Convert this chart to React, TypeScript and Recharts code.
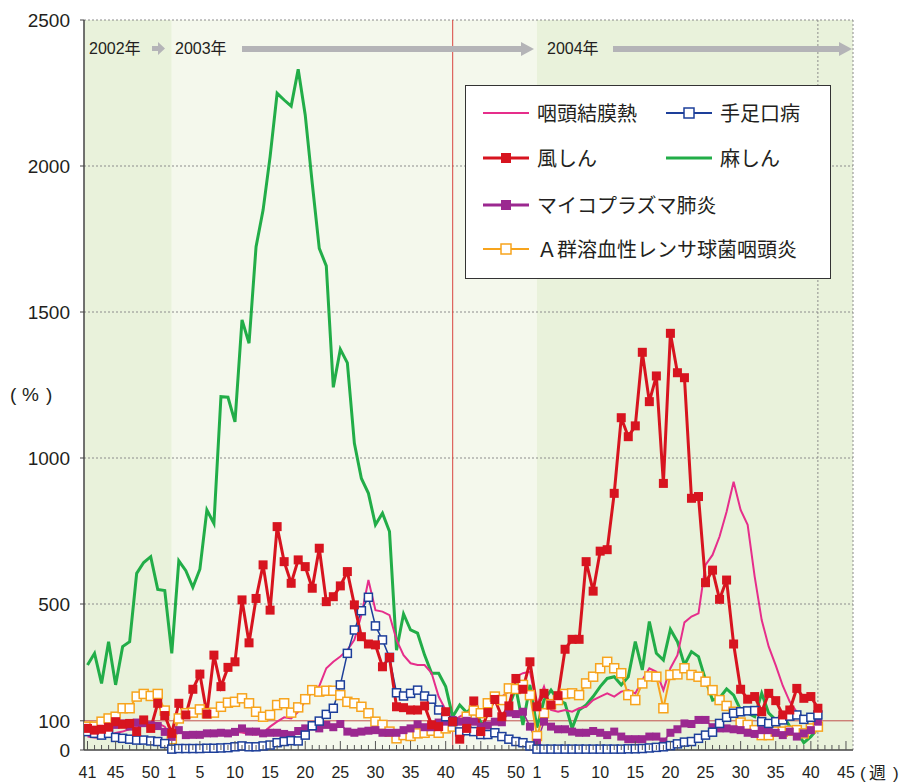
import React from "react";
import { LineChart, Line, XAxis, YAxis, ReferenceLine, ReferenceArea, Legend } from "recharts";

// weeks: 2002 w41-52, 2003 w1-52, 2004 w1-41
const yearSpans = [
  { year: 2002, from: 41, to: 52 },
  { year: 2003, from: 1, to: 52 },
  { year: 2004, from: 1, to: 41 },
];

// 咽頭結膜熱
const pcf = [
  46, 43, 42, 50, 58, 63, 72, 80, 86, 95, 92, 80,
  34, 65, 55, 52, 55, 55, 58, 58, 60, 62, 60, 55, 52, 59,
  80, 97, 112, 108, 131, 168, 200, 219, 280, 302, 320, 342, 377, 462, 582, 479, 474, 462, 377, 325, 297, 291, 291, 263, 183, 137, 97,
  114, 126, 137, 114, 143, 169, 183, 200, 251, 263, 268, 154, 217, 137, 131, 137, 131, 143, 148, 171, 183, 194, 183, 200, 205, 194, 240, 280,
  268, 205, 280, 325, 437, 457, 468, 634, 668, 731, 816, 919, 822, 771, 594, 445, 354, 290, 220, 165, 130, 110, 103, 115,
];
// 手足口病
const hfmd = [
  63, 57, 51, 57, 43, 40, 37, 34, 34, 31, 29, 22,
  3, 5, 5, 5, 5, 6, 6, 7, 8, 11, 14, 11, 11, 14,
  17, 25, 29, 32, 31, 51, 83, 99, 122, 143, 223, 331, 411, 477, 523, 425, 377, 317, 196, 185, 194, 205, 185, 174, 137, 114, 97, 62,
  66, 63, 53, 53, 59, 46, 37, 29, 25, 14, 3,
  3, 3, 3, 3, 3, 3, 3, 3, 3, 3, 3, 3, 4, 4, 5,
  7, 9, 11, 15, 21, 27, 29, 40, 51, 61, 91, 112, 126, 131, 134, 135, 97, 91, 97, 103, 116, 120, 105, 112, 120,
];
// 風しん
const rubella = [
  74, 68, 71, 78, 97, 88, 91, 63, 103, 74, 160, 118,
  57, 160, 120, 208, 260, 123, 325, 217, 283, 302, 514, 367, 519, 634, 479,
  765, 645, 571, 651, 628, 554, 691, 508, 525, 562, 611, 497, 388, 363, 360, 285, 317, 148, 145, 137, 137, 151, 86, 80, 131, 97, 37,
  74, 168, 63, 128, 173, 114, 151, 245, 208, 302, 148, 194, 154, 186, 345, 379, 379, 645, 544, 681, 686,
  879, 1138, 1073, 1110, 1362, 1193, 1281, 913, 1427, 1292, 1275, 862, 868, 573, 616, 516, 582, 363, 208, 174, 183, 131, 194, 169, 120, 137, 211, 177, 183, 143,
];
// 麻しん
const measles = [
  291, 331, 228, 371, 223, 354, 371, 605, 642, 662, 550, 546,
  331, 648, 614, 557, 619, 822, 776, 1210, 1208, 1124, 1473, 1393, 1724, 1849, 2032,
  2249, 2226, 2205, 2331, 2175, 1941, 1718, 1658, 1242, 1372, 1326, 1050, 930, 879, 771, 811, 748,
  342, 466, 411, 400, 325, 263, 263, 217, 114,
  154, 128, 152, 94, 86, 91, 100, 148, 212, 86, 223, 77, 171, 205, 171, 160, 74,
  137, 154, 183, 217, 245, 251, 223, 251, 371, 274, 440,
  331, 308, 413, 371, 291, 337, 320, 240, 171, 178, 209, 188, 137, 126, 114, 194, 126, 103, 120, 80, 63, 25, 46, 74,
];
// マイコプラズマ肺炎
const mycoplasma = [
  65, 68, 72, 78, 86, 91, 80, 94, 92, 85, 82, 62,
  45, 68, 51, 52, 52, 57, 57, 59, 57, 62, 74, 63, 63, 57,
  59, 59, 55, 51, 65, 74, 80, 74, 86, 78, 89, 63, 59, 63, 66, 68, 59, 59, 59, 68, 74, 88, 78, 78, 94, 97, 103,
  97, 100, 97, 80, 84, 97, 95, 128, 123, 131, 80, 25, 97, 80, 71, 71, 63, 59, 59, 65, 59, 51, 63, 46, 37, 37, 37,
  46, 46, 29, 59, 71, 91, 89, 103, 103, 78, 74, 74, 71, 68, 59, 55, 68, 68, 59, 51, 63, 46, 57, 68, 97,
];
// A群溶血性レンサ球菌咽頭炎
const gas = [
  80, 80, 97, 108, 114, 143, 143, 183, 192, 185, 192, 135,
  37, 108, 126, 128, 139, 126, 128, 148, 162, 165, 177, 160, 131, 114,
  120, 154, 160, 128, 146, 174, 205, 200, 203, 203, 188, 165, 160, 148, 126, 97, 86, 63, 40, 51, 48, 57, 59, 66, 59, 74, 80,
  86, 114, 135, 126, 160, 183, 171, 211, 209, 223, 188, 48, 126, 157, 171, 192, 194, 188, 228, 251, 280, 302, 280, 263, 188, 171, 228, 252,
  251, 143, 257, 259, 280, 257, 251, 234, 205, 171, 151, 131, 94, 86, 68, 51, 51, 63, 63, 66, 68, 57, 74, 80,
];

const yTicks = [0, 100, 500, 1000, 1500, 2000, 2500];
const gridValues = [500, 1000, 1500, 2000, 2500];
const labelWeeks2002 = [41, 45, 50];
const labelWeeks2003 = [1, 5, 10, 15, 20, 25, 30, 35, 40, 45, 50];
const labelWeeks2004 = [1, 5, 10, 15, 20, 25, 30, 35, 40, 45];

// index offsets of each year's week 1
const start2003 = 12;
const start2004 = 64;

const rows = [];
let idx = 0;
yearSpans.forEach((s) => {
  for (let w = s.from; w <= s.to; w++) {
    rows.push({
      i: idx, year: s.year, week: w,
      pcf: pcf[idx], hfmd: hfmd[idx], rubella: rubella[idx],
      measles: measles[idx], mycoplasma: mycoplasma[idx], gas: gas[idx],
    });
    idx++;
  }
});

const tickLabels: Record<number, string> = {};
labelWeeks2002.forEach((w) => (tickLabels[w - 41] = String(w)));
labelWeeks2003.forEach((w) => (tickLabels[start2003 + w - 1] = String(w)));
labelWeeks2004.forEach((w) => (tickLabels[start2004 + w - 1] = String(w)));
const xTicks = Array.from({ length: 109 }, (_, k) => k);

const FONT = "'Liberation Sans', Arial, 'Noto Sans CJK JP', sans-serif";
const JP = "'Noto Sans CJK JP', sans-serif";
const TXT = "#231f20";

const WeekTick = (props: any) => {
  const { x, y, payload } = props;
  const label = tickLabels[payload.value];
  return (
    <g>
      <line x1={x} x2={x} y1={y} y2={y - (label ? 9 : 5)} stroke="#555" strokeWidth={1} />
      {label && (
        <text x={x} y={y + 28} textAnchor="middle" fontSize={16} fill={TXT} fontFamily={FONT}>
          {label}
        </text>
      )}
    </g>
  );
};

const filledSquare = (color: string, size: number) => (p: any) => {
  if (p.cx == null || p.cy == null) return <g key={`e-${p.index}`} />;
  return <rect key={`d-${p.index}`} x={p.cx - size / 2} y={p.cy - size / 2} width={size} height={size} fill={color} />;
};
const openSquare = (color: string, size: number) => (p: any) => {
  if (p.cx == null || p.cy == null) return <g key={`e-${p.index}`} />;
  return (
    <rect key={`d-${p.index}`} x={p.cx - size / 2} y={p.cy - size / 2} width={size} height={size}
      fill="#fff" stroke={color} strokeWidth={1.5} />
  );
};

const C = {
  pcf: "#e62e8b",
  hfmd: "#1d3f9a",
  rubella: "#d7141f",
  measles: "#22ad48",
  mycoplasma: "#9b2890",
  gas: "#f7a41d",
};

const LegendIcon = ({ color, kind, width = 46 }: { color: string; kind: string; width?: number }) => (
  <svg width={width} height={14} style={{ display: "block" }}>
    <line x1={0} x2={width} y1={7} y2={7} stroke={color} strokeWidth={kind === "thick" || kind === "filled" ? 3 : 2} />
    {kind === "filled" && <rect x={width / 2 - 5} y={2} width={10} height={10} fill={color} />}
    {kind === "open" && <rect x={width / 2 - 5} y={2} width={10} height={10} fill="#fff" stroke={color} strokeWidth={1.5} />}
  </svg>
);

const legendItems = [
  { name: "咽頭結膜熱", color: C.pcf, kind: "line", left: 17, top: 27 },
  { name: "手足口病", color: C.hfmd, kind: "open", left: 200, top: 27 },
  { name: "風しん", color: C.rubella, kind: "filled", left: 17, top: 72 },
  { name: "麻しん", color: C.measles, kind: "thick", left: 200, top: 72 },
  { name: "マイコプラズマ肺炎", color: C.mycoplasma, kind: "filled", left: 17, top: 119 },
  { name: "Ａ群溶血性レンサ球菌咽頭炎", color: C.gas, kind: "open", left: 17, top: 163 },
];

const LegendBox = () => (
  <div style={{ position: "relative", width: 366, height: 194, boxSizing: "border-box", border: "1px solid #333", background: "#fff" }}>
    {legendItems.map((it) => (
      <div key={it.name} style={{ position: "absolute", left: it.left, top: it.top - 14, height: 28, display: "flex", alignItems: "center" }}>
        <LegendIcon color={it.color} kind={it.kind} />
        <span style={{ marginLeft: 8, fontSize: 20, fontFamily: JP, color: TXT, whiteSpace: "nowrap", lineHeight: "28px" }}>
          {it.name}
        </span>
      </div>
    ))}
  </div>
);

const Annotations = () => (
  <svg width={906} height={782} style={{ position: "absolute", left: 0, top: 0, pointerEvents: "none", overflow: "visible" }}>
    <g fontFamily={FONT} fill={TXT} fontSize={16}>
      <text x={89} y={54}>2002年</text>
      <text x={175} y={54}>2003年</text>
      <text x={547} y={54}>2004年</text>
    </g>
    <g fill="#b4b4b7">
      <polygon points="152,46 158,46 158,42 165,48.5 158,55 158,51 152,51" />
      <rect x={242} y={46} width={281} height={6} />
      <polygon points="521,42 534,49 521,56" />
      <rect x={613} y={46} width={228} height={6} />
      <polygon points="839,42 852,49 839,56" />
    </g>
    <g fontSize={19} fontFamily={FONT} fill={TXT}>
      <text x={10} y={401}>(</text>
      <text x={22} y={401}>%</text>
      <text x={46} y={401}>)</text>
    </g>
    <g fontSize={17} fontFamily={FONT} fill={TXT}>
      <text x={860} y={779}>(</text>
      <text x={869} y={779}>週</text>
      <text x={893} y={779}>)</text>
    </g>
  </svg>
);

const App = () => (
  <div style={{ position: "absolute", left: 0, top: 0, width: 906, height: 782, background: "#fff" }}>
    <LineChart width={906} height={782} data={rows} margin={{ top: 20, right: 53, bottom: 2, left: 14 }}>
      <ReferenceArea x1={-0.5} x2={start2003} y1={0} y2={2500} fill="#e9f2db" fillOpacity={1} stroke="none" />
      <ReferenceArea x1={start2003} x2={start2004} y1={0} y2={2500} fill="#f4f8ec" fillOpacity={1} stroke="none" />
      <ReferenceArea x1={start2004} x2={109} y1={0} y2={2500} fill="#e9f2db" fillOpacity={1} stroke="none" />
      {gridValues.map((v) => (
        <ReferenceLine key={v} y={v} stroke="#8c8c8c" strokeDasharray="2 2" strokeWidth={1} />
      ))}
      <ReferenceLine x={104} stroke="#8c8c8c" strokeDasharray="2 2" />
      <ReferenceLine x={109} stroke="#8c8c8c" strokeDasharray="2 2" />
      <ReferenceLine y={100} stroke="#c0504d" strokeWidth={1} />
      <ReferenceLine x={52} stroke="#d9443f" strokeWidth={1} />
      <XAxis dataKey="i" type="number" domain={[-0.5, 109]} ticks={xTicks} interval={0} allowDataOverflow
        tick={(p: any) => <WeekTick {...p} />} tickLine={false} tickSize={0} tickMargin={0} height={30}
        axisLine={{ stroke: "#444", strokeWidth: 1.5 }} />
      <YAxis type="number" domain={[0, 2500]} ticks={yTicks} interval={0} width={70} tickSize={4} tickMargin={10}
        tick={{ fontSize: 19, fill: TXT, fontFamily: FONT }} axisLine={{ stroke: "#444", strokeWidth: 1.5 }}
        tickLine={{ stroke: "#444" }} />
      <Legend layout="horizontal" verticalAlign="middle" align="center"
        wrapperStyle={{ position: "absolute", left: 465, top: 85, width: 366, height: 194 }}
        content={() => <LegendBox />} />
      <Line dataKey="measles" name="麻しん" stroke={C.measles} strokeWidth={3} dot={false} isAnimationActive={false} />
      <Line dataKey="pcf" name="咽頭結膜熱" stroke={C.pcf} strokeWidth={2} dot={false} isAnimationActive={false} />
      <Line dataKey="gas" name="A群溶血性レンサ球菌咽頭炎" stroke={C.gas} strokeWidth={2} dot={openSquare(C.gas, 9)} isAnimationActive={false} />
      <Line dataKey="mycoplasma" name="マイコプラズマ肺炎" stroke={C.mycoplasma} strokeWidth={1.5} dot={filledSquare(C.mycoplasma, 8)} isAnimationActive={false} />
      <Line dataKey="hfmd" name="手足口病" stroke={C.hfmd} strokeWidth={1.5} dot={openSquare(C.hfmd, 8)} isAnimationActive={false} />
      <Line dataKey="rubella" name="風しん" stroke={C.rubella} strokeWidth={3} dot={filledSquare(C.rubella, 9)} isAnimationActive={false} />
    </LineChart>
    <Annotations />
  </div>
);

export default App;
